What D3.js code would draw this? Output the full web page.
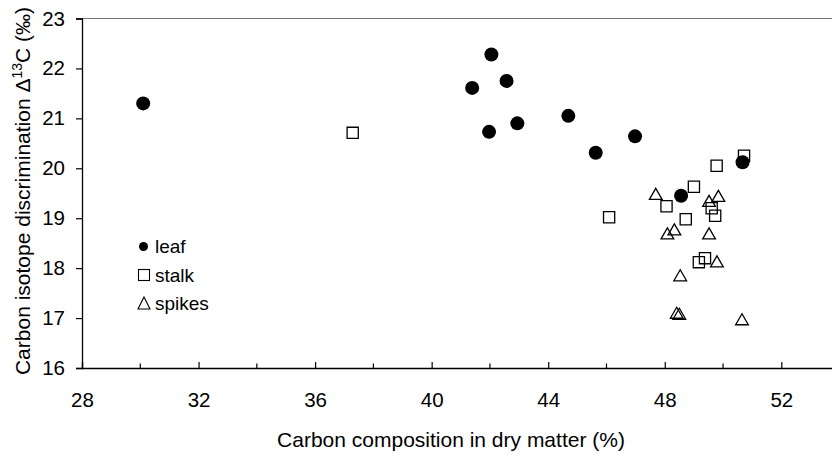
<!DOCTYPE html>
<html>
<head>
<meta charset="utf-8"/>
<script src="https://d3js.org/d3.v7.min.js"></script>
<style>
  body { margin: 0; background: #fff; }
  text { font-family: "Liberation Sans", Arial, sans-serif; fill: #000; }
</style>
</head>
<body>
<svg id="chart" width="832" height="456"></svg>
<script>
// data: [carbon %, delta 13C]
let leaf = [[30.10, 21.30], [42.05, 22.28], [42.57, 21.75], [41.39, 21.61], [42.94, 20.90],
            [41.97, 20.73], [44.69, 21.05], [46.98, 20.64], [45.63, 20.31], [50.67, 20.12],
            [48.56, 19.45]];
let stalk = [[37.29, 20.71], [50.72, 20.25], [49.78, 20.05], [49.00, 19.63], [48.06, 19.24],
             [46.09, 19.02], [48.72, 18.98], [49.61, 19.20], [49.73, 19.05], [49.38, 18.20],
             [49.17, 18.12]];
let spikes = [[47.69, 19.45], [49.52, 19.31], [49.84, 19.41], [48.33, 18.74], [48.09, 18.66],
              [49.52, 18.66], [49.79, 18.10], [48.53, 17.82], [48.41, 17.07], [48.50, 17.05],
              [50.65, 16.94]];
let xTicks = [28, 32, 36, 40, 44, 48, 52];
let xMinor = [30, 34, 38, 42, 46, 50];
let yTicks = [16, 17, 18, 19, 20, 21, 22, 23];
let legendNames = ["leaf", "stalk", "spikes"];

let svg = d3.select("svg#chart");
let x = d3.scaleLinear().domain([28, 54]).range([82, 839.6]);
let y = d3.scaleLinear().domain([16, 23]).range([368, 18.5]);

// top border (thin grey)
svg.append("line")
    .attr("x1", 82).attr("x2", 839.6)
    .attr("y1", y(23)).attr("y2", y(23))
    .style("stroke", "#777").style("stroke-width", 1);

// y axis
let yAxis = d3.axisLeft(y).tickValues(yTicks).tickSize(6).tickFormat(d3.format("d"));
let gy = svg.append("g").attr("transform", "translate(82,0)").call(yAxis);
gy.select(".domain").style("stroke", "#000").style("stroke-width", 1.3);
gy.selectAll(".tick line").style("stroke", "#000").style("stroke-width", 1.2);
gy.selectAll(".tick text")
    .attr("x", -17)
    .style("font-size", "20.5px")
    .style("font-family", "Liberation Sans, Arial, sans-serif");

// x axis, ticks pointing inward
let xAxis = d3.axisBottom(x).tickValues(xTicks).tickSize(-6).tickFormat(d3.format("d"));
let gx = svg.append("g").attr("transform", "translate(0,368)").call(xAxis);
gx.select(".domain").style("stroke", "#000").style("stroke-width", 1.3);
gx.selectAll(".tick line").style("stroke", "#000").style("stroke-width", 1.2);
gx.selectAll(".tick text")
    .attr("y", 24)
    .style("font-size", "20.5px")
    .style("font-family", "Liberation Sans, Arial, sans-serif");

svg.append("g").selectAll("line").data(xMinor).join("line")
    .attr("x1", d => x(d)).attr("x2", d => x(d))
    .attr("y1", 368).attr("y2", 363.5)
    .style("stroke", "#000").style("stroke-width", 1.2);

// axis titles
svg.append("text")
    .attr("x", 451).attr("y", 447)
    .attr("text-anchor", "middle")
    .style("font-size", "21px")
    .text("Carbon composition in dry matter (%)");

let yt = svg.append("text")
    .attr("transform", "translate(30,191) rotate(-90)")
    .attr("text-anchor", "middle")
    .style("font-size", "21px");
yt.append("tspan").text("Carbon isotope discrimination \u0394");
yt.append("tspan").attr("dy", -8).style("font-size", "14px").text("13");
yt.append("tspan").attr("dy", 8).text("C (\u2030)");

// markers
let sq = d3.symbol(d3.symbolSquare, 125);
let tri = d3.symbol(d3.symbolTriangle, 70);

svg.append("g").selectAll("path").data(stalk).join("path")
    .attr("d", sq)
    .attr("transform", d => "translate(" + x(d[0]) + "," + y(d[1]) + ")")
    .style("fill", "none").style("stroke", "#000").style("stroke-width", 1.3);

svg.append("g").selectAll("path").data(spikes).join("path")
    .attr("d", tri)
    .attr("transform", d => "translate(" + x(d[0]) + "," + y(d[1]) + ")")
    .style("fill", "none").style("stroke", "#000").style("stroke-width", 1.3);

svg.append("g").selectAll("circle").data(leaf).join("circle")
    .attr("cx", d => x(d[0])).attr("cy", d => y(d[1]))
    .attr("r", 7)
    .style("fill", "#000");

// legend
let legend = svg.append("g");
legendNames.forEach(function(name, i) {
    let ly = 246.5 + i * 28.5;
    if (i == 0) {
        legend.append("circle").attr("cx", 143.5).attr("cy", ly).attr("r", 4.5).style("fill", "#000");
    } else if (i == 1) {
        legend.append("rect").attr("x", 138.5).attr("y", ly - 5.5).attr("width", 11).attr("height", 11)
            .style("fill", "none").style("stroke", "#000").style("stroke-width", 1.1);
    } else {
        legend.append("path").attr("d", "M" + 144 + "," + (ly - 6.5) + "L" + 150 + "," + (ly + 5.5) + "L" + 138 + "," + (ly + 5.5) + "Z")
            .style("fill", "none").style("stroke", "#000").style("stroke-width", 1.1);
    }
    legend.append("text")
        .attr("x", 155).attr("y", ly + 6.5)
        .style("font-size", "19px")
        .text(name);
});
</script>
</body>
</html>
